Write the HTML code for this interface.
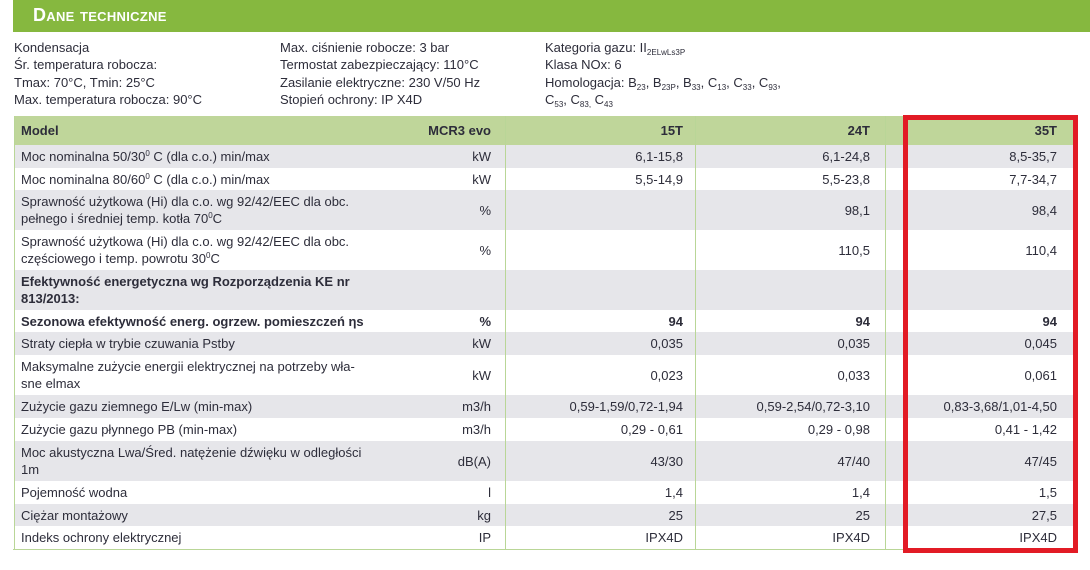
<!DOCTYPE html>
<html><head><meta charset="utf-8"><style>
body{margin:0;width:1090px;height:570px;background:#fff;position:relative;overflow:hidden;font-family:"Liberation Sans",sans-serif;color:#2d2d3a;font-size:13px}
.ban{position:absolute;left:13px;top:0;width:1077px;height:32px;background:#86b83f}
.ban span{position:absolute;left:20px;top:5px;color:#fff;font-weight:bold;font-size:18px;font-variant:small-caps;letter-spacing:0.3px}
.info{position:absolute;top:39px;line-height:17.3px;font-size:13px}
sub{font-size:8px;vertical-align:-3px;line-height:0}
sup{font-size:8px;vertical-align:5px;line-height:0}
.row{position:absolute;left:14px;width:1059px}
.row>div{position:absolute;top:0;height:100%;display:flex;align-items:center;box-sizing:border-box}
.l{left:7px;width:440px;line-height:17px}
.u{left:0;width:477px;justify-content:flex-end}
.a{left:491px;width:178px;justify-content:flex-end}
.b{left:681px;width:175px;justify-content:flex-end}
.c{left:871px;width:172px;justify-content:flex-end}
.g{background:#e6e6ea}
.h{background:#bfd69a;font-weight:bold}
.bo{font-weight:bold}
.vl{position:absolute;top:116px;height:434px;width:1px;background:#b9d697}
</style></head><body>
<div class="ban"><span>Dane techniczne</span></div>
<div class="info" style="left:14px">Kondensacja<br>Śr. temperatura robocza:<br>Tmax: 70°C, Tmin: 25°C<br>Max. temperatura robocza: 90°C</div>
<div class="info" style="left:280px">Max. ciśnienie robocze: 3 bar<br>Termostat zabezpieczający: 110°C<br>Zasilanie elektryczne: 230 V/50 Hz<br>Stopień ochrony: IP X4D</div>
<div class="info" style="left:545px">Kategoria gazu: II<sub>2ELwLs3P</sub><br>Klasa NOx: 6<br>Homologacja: B<sub>23</sub>, B<sub>23P</sub>, B<sub>33</sub>, C<sub>13</sub>, C<sub>33</sub>, C<sub>93</sub>,<br>C<sub>53</sub>, C<sub>83,</sub> C<sub>43</sub></div>

<div class="row h" style="top:116px;height:29px"><div class="l">Model</div><div class="u">MCR3 evo</div><div class="a">15T</div><div class="b">24T</div><div class="c">35T</div></div>
<div class="row g" style="top:145px;height:23px"><div class="l"><span>Moc nominalna 50/30<sup>0</sup> C (dla c.o.) min/max</span></div><div class="u">kW</div><div class="a">6,1-15,8</div><div class="b">6,1-24,8</div><div class="c">8,5-35,7</div></div>
<div class="row" style="top:168px;height:22px"><div class="l"><span>Moc nominalna 80/60<sup>0</sup> C (dla c.o.) min/max</span></div><div class="u">kW</div><div class="a">5,5-14,9</div><div class="b">5,5-23,8</div><div class="c">7,7-34,7</div></div>
<div class="row g" style="top:190px;height:40px"><div class="l"><span>Sprawność użytkowa (Hi) dla c.o. wg 92/42/EEC dla obc.<br>pełnego i średniej temp. kotła 70<sup>0</sup>C</span></div><div class="u">%</div><div class="b">98,1</div><div class="c">98,4</div></div>
<div class="row" style="top:230px;height:40px"><div class="l"><span>Sprawność użytkowa (Hi) dla c.o. wg 92/42/EEC dla obc.<br>częściowego i temp. powrotu 30<sup>0</sup>C</span></div><div class="u">%</div><div class="b">110,5</div><div class="c">110,4</div></div>
<div class="row g" style="top:270px;height:40px"><div class="l bo"><span>Efektywność energetyczna wg Rozporządzenia KE nr<br>813/2013:</span></div></div>
<div class="row" style="top:310px;height:22px"><div class="l bo"><span>Sezonowa efektywność energ. ogrzew. pomieszczeń ηs</span></div><div class="u bo">%</div><div class="a bo">94</div><div class="b bo">94</div><div class="c bo">94</div></div>
<div class="row g" style="top:332px;height:23px"><div class="l">Straty ciepła w trybie czuwania Pstby</div><div class="u">kW</div><div class="a">0,035</div><div class="b">0,035</div><div class="c">0,045</div></div>
<div class="row" style="top:355px;height:40px"><div class="l"><span>Maksymalne zużycie energii elektrycznej na potrzeby wła-<br>sne elmax</span></div><div class="u">kW</div><div class="a">0,023</div><div class="b">0,033</div><div class="c">0,061</div></div>
<div class="row g" style="top:395px;height:23px"><div class="l">Zużycie gazu ziemnego E/Lw (min-max)</div><div class="u">m3/h</div><div class="a">0,59-1,59/0,72-1,94</div><div class="b">0,59-2,54/0,72-3,10</div><div class="c">0,83-3,68/1,01-4,50</div></div>
<div class="row" style="top:418px;height:23px"><div class="l">Zużycie gazu płynnego PB (min-max)</div><div class="u">m3/h</div><div class="a">0,29 - 0,61</div><div class="b">0,29 - 0,98</div><div class="c">0,41 - 1,42</div></div>
<div class="row g" style="top:441px;height:40px"><div class="l"><span>Moc akustyczna Lwa/Śred. natężenie dźwięku w odległości<br>1m</span></div><div class="u">dB(A)</div><div class="a">43/30</div><div class="b">47/40</div><div class="c">47/45</div></div>
<div class="row" style="top:481px;height:23px"><div class="l">Pojemność wodna</div><div class="u">l</div><div class="a">1,4</div><div class="b">1,4</div><div class="c">1,5</div></div>
<div class="row g" style="top:504px;height:22px"><div class="l">Ciężar montażowy</div><div class="u">kg</div><div class="a">25</div><div class="b">25</div><div class="c">27,5</div></div>
<div class="row" style="top:526px;height:23px"><div class="l">Indeks ochrony elektrycznej</div><div class="u">IP</div><div class="a">IPX4D</div><div class="b">IPX4D</div><div class="c">IPX4D</div></div>

<div class="vl" style="left:14px"></div>
<div class="vl" style="left:505px"></div>
<div class="vl" style="left:695px"></div>
<div class="vl" style="left:885px"></div>
<div style="position:absolute;left:13px;top:549px;width:1060px;height:1px;background:#b9d697"></div>
<div style="position:absolute;left:903px;top:115px;width:175px;height:438px;border:5px solid #e21b25;box-sizing:border-box"></div>
</body></html>
